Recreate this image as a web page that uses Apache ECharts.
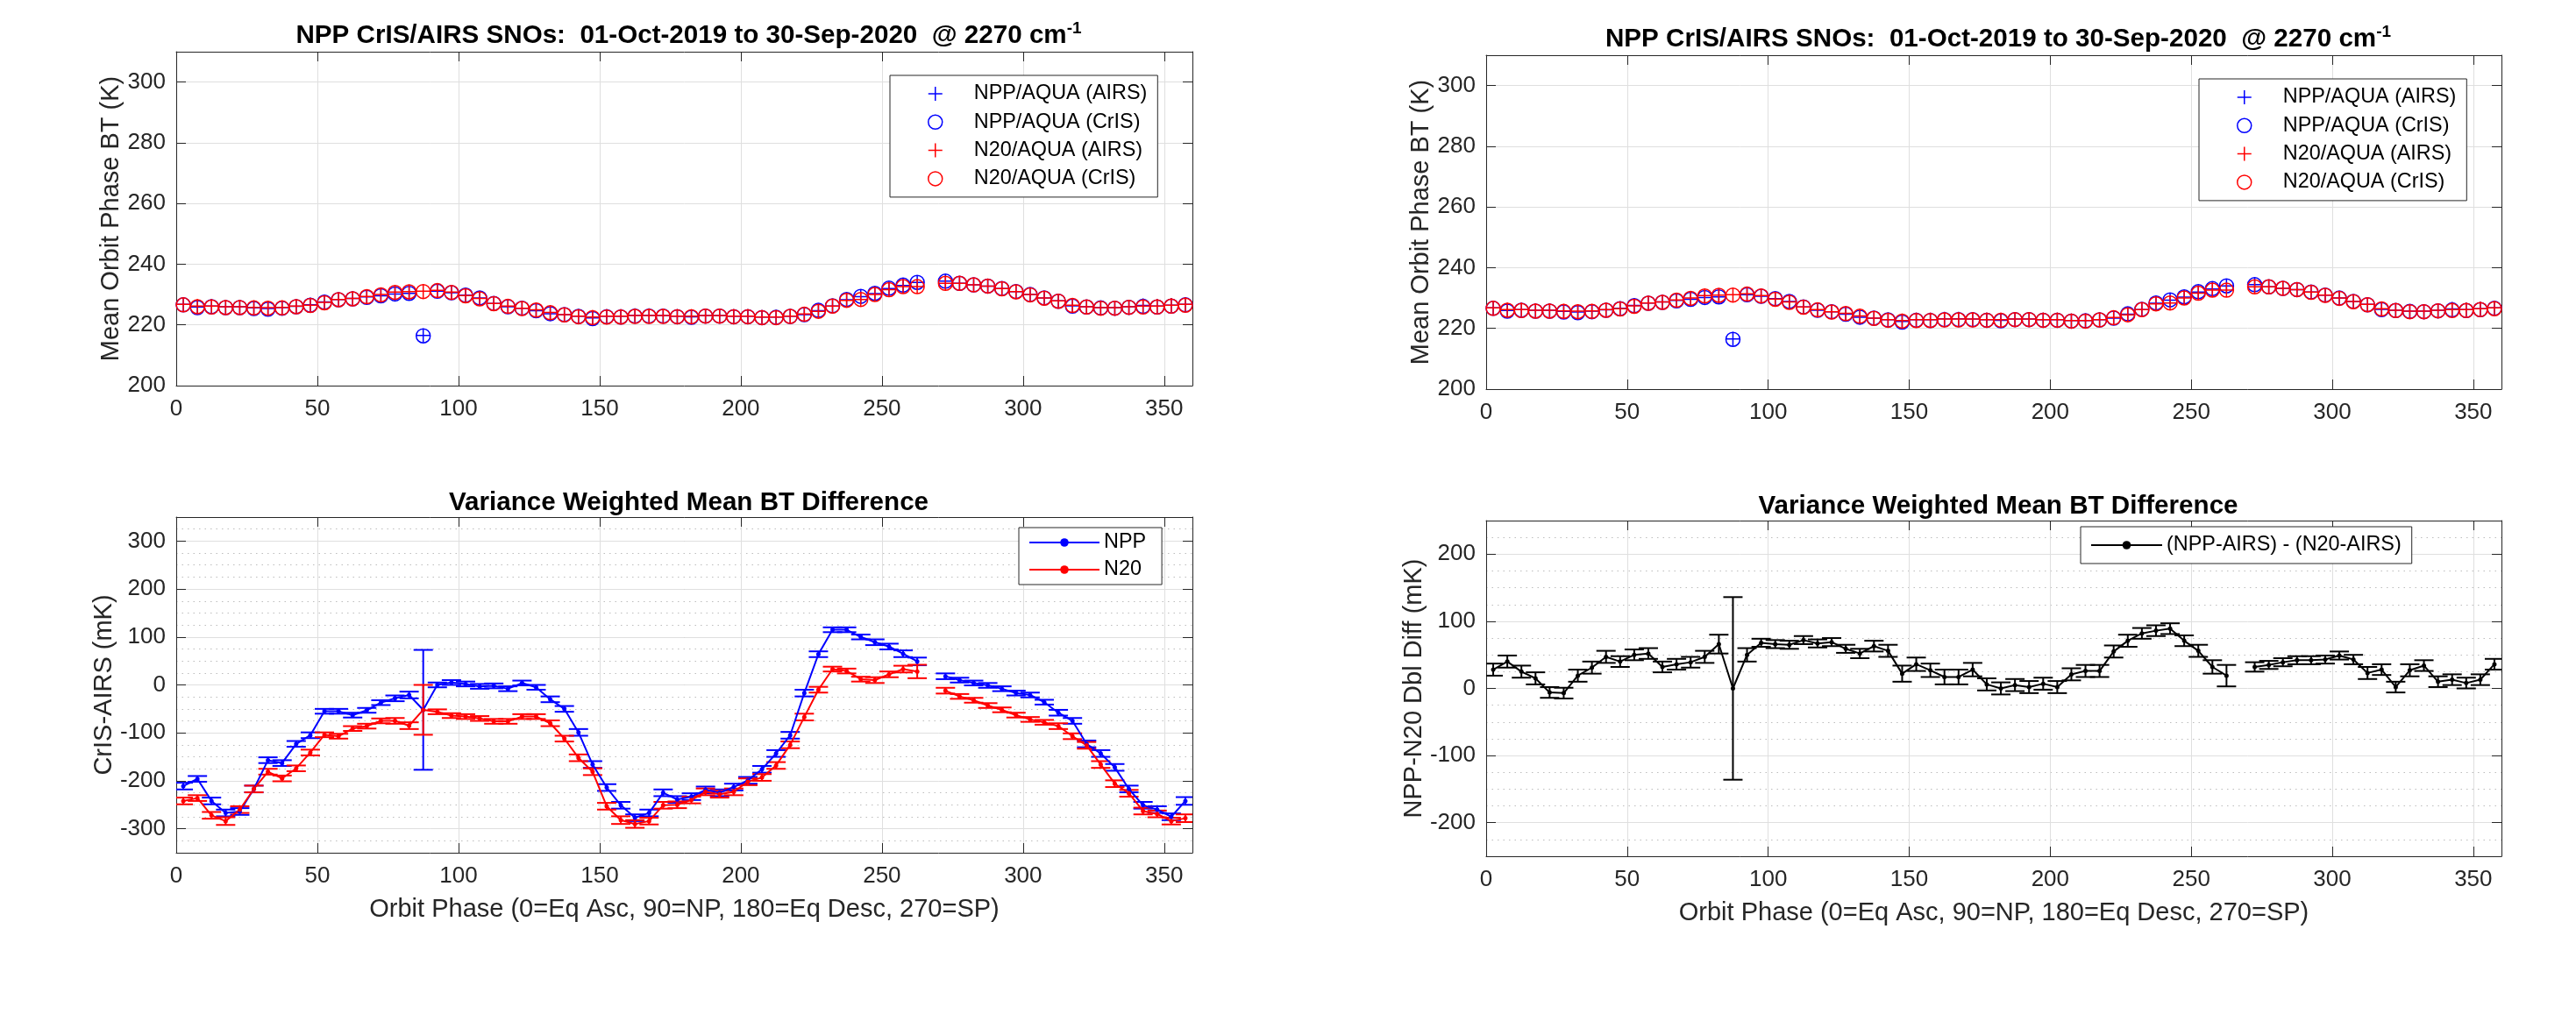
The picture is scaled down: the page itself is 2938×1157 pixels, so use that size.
<!DOCTYPE html>
<html>
<head>
<meta charset="utf-8">
<script src="https://cdn.jsdelivr.net/npm/echarts@6/dist/echarts.min.js"></script>
<style>
html,body{margin:0;padding:0;background:#ffffff;}
#c{width:2938px;height:1157px;}
</style>
</head>
<body>
<div id="c"></div>
<script>
// ---------------- DATA ----------------
const phase = [2.5,7.5,12.5,17.5,22.5,27.5,32.5,37.5,42.5,47.5,52.5,57.5,62.5,67.5,72.5,77.5,82.5,87.5,92.5,97.5,
  102.5,107.5,112.5,117.5,122.5,127.5,132.5,137.5,142.5,147.5,152.5,157.5,162.5,167.5,172.5,177.5,182.5,187.5,192.5,197.5,
  202.5,207.5,212.5,217.5,222.5,227.5,232.5,237.5,242.5,247.5,252.5,257.5,262.5,267.5,272.5,277.5,282.5,287.5,292.5,297.5,
  302.5,307.5,312.5,317.5,322.5,327.5,332.5,337.5,342.5,347.5,352.5,357.5];

// Mean orbit phase BT (K)
const nppAirs = [226.8,225.9,226.2,226.0,226.0,225.6,225.4,225.7,226.1,226.6,
  227.6,228.4,228.7,229.2,229.6,230.2,230.4,216.5,231.1,230.6,
  229.8,228.9,227.1,226.0,225.5,224.7,223.7,223.4,222.9,222.3,
  222.9,222.9,223.2,223.2,223.1,222.9,222.7,223.1,223.1,222.9,
  222.9,222.6,222.6,222.9,223.4,224.7,226.2,228.3,229.3,230.3,
  232.0,233.0,234.0,null,234.4,233.7,233.2,232.8,232.0,231.0,
  230.0,228.9,227.9,226.3,226.0,225.7,225.7,226.0,226.4,226.2,
  226.5,226.8];
const nppCris = [226.6,225.7,226.0,225.7,225.7,225.4,225.2,225.5,226.0,226.5,
  227.5,228.3,228.6,229.1,229.6,230.2,230.4,216.4,231.1,230.6,
  229.8,228.9,227.1,226.0,225.5,224.7,223.7,223.4,222.8,222.1,
  222.7,222.6,222.9,222.9,222.9,222.7,222.5,222.9,222.9,222.7,
  222.7,222.4,222.5,222.8,223.4,224.8,226.3,228.4,229.4,230.4,
  232.1,233.1,234.0,null,234.4,233.7,233.2,232.8,232.0,231.0,
  230.0,228.9,227.8,226.2,225.9,225.6,225.5,225.8,226.1,225.9,
  226.2,226.6];
const n20Airs = [226.8,226.2,226.2,226.0,226.0,225.8,225.7,225.8,226.2,226.5,
  227.4,228.4,228.7,229.4,230.0,230.8,231.0,231.1,231.4,230.8,
  229.7,228.7,227.1,226.2,225.5,225.0,224.1,223.4,222.9,222.6,
  222.9,222.9,223.1,223.1,223.1,222.9,222.9,223.1,223.1,222.9,
  222.9,222.6,222.6,222.9,223.6,224.5,226.2,228.1,228.4,230.0,
  231.6,232.6,232.6,null,233.7,233.7,233.2,232.8,232.0,231.0,
  230.0,228.9,227.9,226.5,226.0,225.7,225.7,226.0,226.2,226.2,
  226.5,226.8];
const n20Cris = [226.6,226.0,225.9,225.7,225.7,225.6,225.5,225.6,226.0,226.4,
  227.3,228.3,228.6,229.3,229.9,230.7,230.9,231.0,231.3,230.7,
  229.6,228.6,227.0,226.1,225.4,224.9,224.0,223.3,222.7,222.4,
  222.6,222.6,222.8,222.8,222.8,222.7,222.7,222.9,222.9,222.7,
  222.7,222.4,222.4,222.8,223.5,224.5,226.2,228.1,228.4,230.0,
  231.6,232.6,232.6,null,233.7,233.7,233.2,232.8,231.9,230.9,
  229.9,228.8,227.8,226.4,225.9,225.5,225.5,225.8,225.9,225.9,
  226.2,226.5];

// CrIS-AIRS (mK)
const nppDiff = [-211,-196,-242,-267,-264,-217,-157,-163,-123,-105,
  -55,-55,-63,-53,-37,-28,-21,-52,0,5,
  2,-3,-2,-8,4,-5,-30,-50,-99,-166,
  -214,-251,-277,-267,-225,-239,-233,-219,-225,-213,
  -199,-176,-143,-105,-17,64,115,115,100,89,
  80,65,49,null,18,10,4,-1,-8,-17,
  -21,-36,-58,-75,-123,-143,-172,-217,-251,-260,
  -275,-242];
const nppErr = [7,6,7,7,7,7,6,6,6,6,
  5,5,5,5,5,6,7,125,5,5,
  5,5,5,5,5,5,6,6,7,7,
  7,7,7,7,7,7,7,7,7,7,
  7,7,7,7,7,6,5,5,5,6,
  6,7,8,null,6,5,5,5,5,5,
  5,5,6,6,7,7,7,7,7,7,
  7,8];
const n20Diff = [-242,-236,-272,-284,-260,-217,-181,-195,-174,-141,
  -104,-107,-91,-86,-75,-75,-85,-52,-56,-64,
  -66,-70,-76,-76,-66,-66,-80,-112,-152,-181,
  -253,-282,-290,-284,-251,-250,-240,-223,-228,-223,
  -202,-193,-168,-125,-67,-10,33,29,12,10,
  22,33,28,null,-12,-24,-32,-43,-52,-63,
  -72,-78,-86,-107,-126,-166,-206,-226,-263,-269,
  -284,-278];
const n20Err = [7,6,7,8,7,7,6,6,6,6,
  5,5,5,5,5,6,7,52,5,5,
  5,5,5,5,5,5,6,6,7,7,
  7,8,8,7,7,7,7,7,7,7,
  7,7,7,7,7,6,5,5,5,6,
  6,7,14,null,6,5,5,5,5,5,
  5,5,6,6,7,7,7,7,7,7,
  7,8];

// NPP-N20 double difference (mK)
const dblDiff = [28,40,25,15,-6,-7,19,31,47,40,
  50,52,32,36,39,47,66,0,50,68,
  66,65,72,67,69,59,52,63,56,22,
  36,27,17,17,28,6,0,5,2,7,
  2,21,26,26,55,71,82,86,89,71,
  56,32,19,null,32,35,39,42,42,43,
  49,43,23,28,2,27,34,10,13,8,
  13,36];
const dblErr = [9,9,9,9,8,8,9,9,9,8,
  8,8,8,8,8,9,14,136,10,6,
  6,6,6,6,6,6,7,8,9,12,
  10,10,11,11,10,9,9,9,9,9,
  9,9,9,9,9,9,8,8,8,8,
  9,10,16,null,7,6,6,6,6,6,
  6,7,9,8,8,9,8,8,8,8,
  8,8];

// Texts
const topTitle = 'NPP CrIS/AIRS SNOs:  01-Oct-2019 to 30-Sep-2020  @ 2270 cm';
const topTitleSup = '-1';
const botTitle = 'Variance Weighted Mean BT Difference';
const xTitle = 'Orbit Phase (0=Eq Asc, 90=NP, 180=Eq Desc, 270=SP)';
const yTitleTop = 'Mean Orbit Phase BT (K)';
const yTitleDiff = 'CrIS-AIRS (mK)';
const yTitleDbl = 'NPP-N20 Dbl Diff (mK)';
const topNames = ['NPP/AQUA (AIRS)','NPP/AQUA (CrIS)','N20/AQUA (AIRS)','N20/AQUA (CrIS)'];
const diffNames = ['NPP','N20'];
const dblName = '(NPP-AIRS) - (N20-AIRS)';

// ---------------- STYLE / LAYOUT ----------------
const FONT = 'Liberation Sans, Arial, Helvetica, sans-serif';
const AX = '#262626';
const GRIDC = '#dfdfdf';
const MINORC = '#bdbdbd';
const BLUE = '#0000ff', RED = '#ff0000', BLACK = '#000000';
const PLUS = 'path://M0,8L16,8M8,0L8,16';

const boxes = [
  {left:201, top:59,  width:1159, height:381, kind:'top', yGap:55},
  {left:201, top:590, width:1159, height:383, kind:'diff', yGap:58},
  {left:1695, top:63, width:1158, height:381, kind:'top', yGap:55},
  {left:1695, top:594, width:1158, height:383, kind:'dbl', yGap:58}
];

const grids = [], xAxes = [], yAxes = [], series = [], titles = [], legends = [];

function pairs(vals) {
  const out = [];
  phase.forEach((p, i) => { out.push([p, vals[i] == null ? null : vals[i]]); });
  return out;
}
function pairsNoNull(vals) {
  const out = [];
  phase.forEach((p, i) => { if (vals[i] != null) out.push([p, vals[i]]); });
  return out;
}
function triples(vals, errs) {
  const out = [];
  phase.forEach((p, i) => { if (vals[i] != null) out.push([p, vals[i], errs[i]]); });
  return out;
}
function errRender(color) {
  return function (params, api) {
    const x = api.value(0), y = api.value(1), e = api.value(2);
    const a = api.coord([x, y + e]);
    const b = api.coord([x, y - e]);
    const w = 11;
    const st = {stroke: color, lineWidth: 2, fill: null};
    return {type: 'group', children: [
      {type: 'line', shape: {x1: a[0], y1: a[1], x2: b[0], y2: b[1]}, style: st},
      {type: 'line', shape: {x1: a[0] - w, y1: a[1], x2: a[0] + w, y2: a[1]}, style: st},
      {type: 'line', shape: {x1: b[0] - w, y1: b[1], x2: b[0] + w, y2: b[1]}, style: st}
    ]};
  };
}

boxes.forEach((b, gi) => {
  grids.push({left: b.left, top: b.top, width: b.width, height: b.height, show: false});
  const bottomX = xAxes.length;
  xAxes.push({
    type: 'value', gridIndex: gi, min: 0, max: 360, interval: 50, position: 'bottom', z: 1,
    axisLine: {show: true, onZero: false, lineStyle: {color: AX, width: 1}},
    axisTick: {show: true, inside: true, length: 11, lineStyle: {color: AX, width: 1}},
    axisLabel: {show: true, color: AX, fontFamily: FONT, fontSize: 26, margin: 14,
      formatter: v => (v % 50 === 0 ? String(v) : '')},
    splitLine: {show: true, lineStyle: {color: GRIDC, width: 1}},
    name: b.kind === 'top' ? '' : xTitle, nameLocation: 'middle', nameGap: 50,
    nameTextStyle: {color: AX, fontFamily: FONT, fontSize: 29}
  });
  xAxes.push({
    type: 'value', gridIndex: gi, min: 0, max: 360, interval: 50, position: 'top', z: 1,
    axisLine: {show: true, onZero: false, lineStyle: {color: AX, width: 1}},
    axisTick: {show: true, inside: true, length: 11, lineStyle: {color: AX, width: 1}},
    axisLabel: {show: false}, splitLine: {show: false}
  });

  let ymin, ymax, yname, extra = {}, hideLbl;
  if (b.kind === 'top') {
    ymin = 200; ymax = 310; yname = yTitleTop; extra = {interval: 20};
    hideLbl = v => v > 300;
  } else if (b.kind === 'diff') {
    ymin = -350; ymax = 350; yname = yTitleDiff; extra = {splitNumber: 7, minInterval: 100, maxInterval: 100};
    hideLbl = v => Math.abs(v) > 300;
  } else {
    ymin = -250; ymax = 250; yname = yTitleDbl; extra = {splitNumber: 5, minInterval: 100, maxInterval: 100};
    hideLbl = v => Math.abs(v) > 200;
  }
  if (b.kind !== 'top') {
    yAxes.push({
      type: 'value', gridIndex: gi, min: ymin, max: ymax, interval: 25, position: 'left', z: 0,
      axisLine: {show: false}, axisTick: {show: false}, axisLabel: {show: false},
      splitLine: {show: true, lineStyle: {color: MINORC, width: 1, type: [1.5, 5]}}
    });
  }
  const mainY = yAxes.length;
  yAxes.push(Object.assign({
    type: 'value', gridIndex: gi, min: ymin, max: ymax, position: 'left', z: 1,
    axisLine: {show: true, onZero: false, lineStyle: {color: AX, width: 1}},
    axisTick: {show: true, inside: true, length: 11, lineStyle: {color: AX, width: 1}},
    axisLabel: {show: true, color: AX, fontFamily: FONT, fontSize: 26, margin: 12,
      formatter: v => (hideLbl(v) ? '' : String(v))},
    splitLine: {show: true, lineStyle: {color: GRIDC, width: 1}},
    name: yname, nameLocation: 'middle', nameRotate: 90, nameGap: b.yGap,
    nameTextStyle: {color: AX, fontFamily: FONT, fontSize: 29}
  }, extra));
  yAxes.push(Object.assign({
    type: 'value', gridIndex: gi, min: ymin, max: ymax, position: 'right', z: 1,
    axisLine: {show: true, onZero: false, lineStyle: {color: AX, width: 1}},
    axisTick: {show: true, inside: true, length: 11, lineStyle: {color: AX, width: 1}},
    axisLabel: {show: false}, splitLine: {show: false}
  }, extra));

  const cx = b.left + b.width / 2;
  if (b.kind === 'top') {
    titles.push({
      text: '{a|' + topTitle + '}{s|' + topTitleSup + '}',
      left: cx, top: b.top - 41, textAlign: 'center',
      textStyle: {rich: {
        a: {fontFamily: FONT, fontSize: 29.6, fontWeight: 'bold', color: '#000', lineHeight: 36},
        s: {fontFamily: FONT, fontSize: 19, fontWeight: 'bold', color: '#000', lineHeight: 19, verticalAlign: 'top'}
      }}
    });
    const defs = [
      {name: topNames[0], vals: nppAirs, sym: PLUS, col: BLUE},
      {name: topNames[1], vals: nppCris, sym: 'circle', col: BLUE},
      {name: topNames[2], vals: n20Airs, sym: PLUS, col: RED},
      {name: topNames[3], vals: n20Cris, sym: 'circle', col: RED}
    ];
    defs.forEach(d => {
      series.push({
        type: 'scatter', name: d.name, xAxisIndex: bottomX, yAxisIndex: mainY,
        data: pairsNoNull(d.vals), symbol: d.sym, symbolSize: 16,
        itemStyle: {color: 'rgba(0,0,0,0)', borderColor: d.col, borderWidth: 1.5, opacity: 1},
        emphasis: {disabled: true}, z: 3
      });
    });
    legends.push({
      orient: 'vertical', left: b.left + b.width - 345, top: b.top + 27,
      padding: [9, 12, 9, 43], itemWidth: 16, itemHeight: 16, itemGap: 8.3,
      backgroundColor: '#ffffff', borderColor: AX, borderWidth: 1, borderRadius: 0,
      selectedMode: false,
      formatter: name => '{g| }' + name,
      textStyle: {fontFamily: FONT, fontSize: 23.4, color: '#000', lineHeight: 24,
        rich: {g: {width: 31, lineHeight: 24}}},
      data: defs.map(d => ({name: d.name, icon: d.sym,
        itemStyle: {color: 'rgba(0,0,0,0)', borderColor: d.col, borderWidth: 1.5}}))
    });
  } else {
    titles.push({
      text: botTitle, left: cx, top: b.top - 36, textAlign: 'center',
      textStyle: {fontFamily: FONT, fontSize: 29.6, fontWeight: 'bold', color: '#000'}
    });
    const defs = b.kind === 'diff'
      ? [{name: diffNames[0], vals: nppDiff, errs: nppErr, col: BLUE},
         {name: diffNames[1], vals: n20Diff, errs: n20Err, col: RED}]
      : [{name: dblName, vals: dblDiff, errs: dblErr, col: BLACK}];
    defs.forEach(d => {
      series.push({
        type: 'custom', name: d.name + ' err', xAxisIndex: bottomX, yAxisIndex: mainY,
        data: triples(d.vals, d.errs), encode: {x: 0, y: 1}, renderItem: errRender(d.col),
        clip: true, silent: true, z: 3
      });
      series.push({
        type: 'line', name: d.name, xAxisIndex: bottomX, yAxisIndex: mainY,
        data: pairs(d.vals), connectNulls: false, symbol: 'circle', symbolSize: 5, showSymbol: true,
        lineStyle: {color: d.col, width: 2}, itemStyle: {color: d.col},
        emphasis: {disabled: true}, z: 3
      });
    });
    if (b.kind === 'diff') {
      legends.push({
        orient: 'vertical', left: b.left + b.width - 198, top: b.top + 12,
        padding: [5, 18, 5, 11], itemWidth: 80, itemHeight: 12, itemGap: 7,
        backgroundColor: '#ffffff', borderColor: AX, borderWidth: 1,
        selectedMode: false,
        textStyle: {fontFamily: FONT, fontSize: 23.4, color: '#000', lineHeight: 24},
        data: diffNames
      });
    } else {
      legends.push({
        orient: 'vertical', left: b.left + 678, top: b.top + 7,
        padding: [9, 12, 9, 11], itemWidth: 81, itemHeight: 12, itemGap: 7,
        backgroundColor: '#ffffff', borderColor: AX, borderWidth: 1,
        selectedMode: false,
        textStyle: {fontFamily: FONT, fontSize: 23.4, color: '#000', lineHeight: 24},
        data: [dblName]
      });
    }
  }
});

const chart = echarts.init(document.getElementById('c'), null, {renderer: 'canvas'});
chart.setOption({
  backgroundColor: '#ffffff',
  animation: false,
  textStyle: {fontFamily: FONT},
  title: titles,
  legend: legends,
  grid: grids,
  xAxis: xAxes,
  yAxis: yAxes,
  series: series
});
</script>
</body>
</html>
